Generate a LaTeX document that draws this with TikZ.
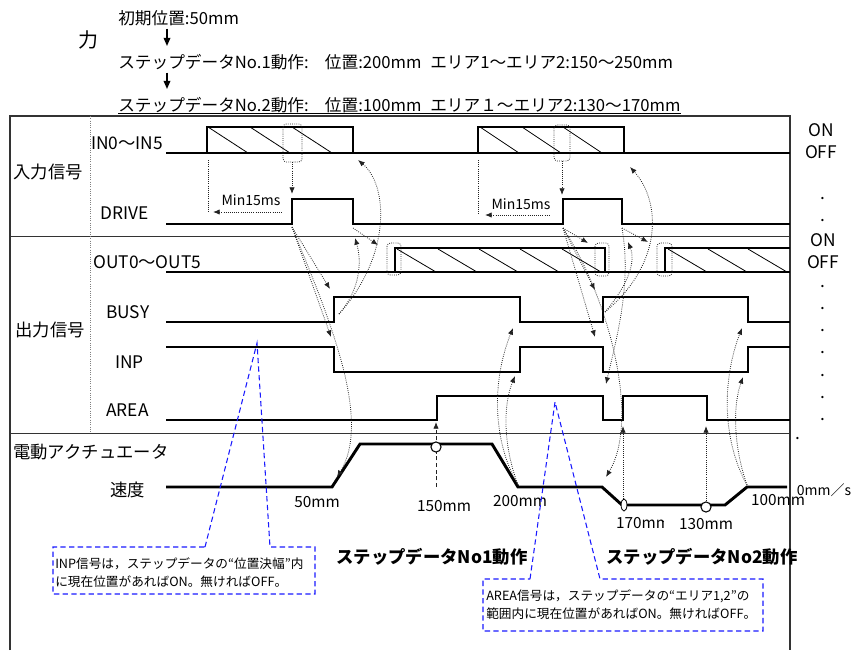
\documentclass[tikz,border=0pt]{standalone}
\usepackage{fontspec}
\setmainfont{Noto Sans CJK JP}
\usetikzlibrary{arrows.meta}
\definecolor{ink}{HTML}{222222}
\definecolor{frame}{HTML}{333333}
\definecolor{callblue}{HTML}{1A1AFF}
\tikzset{
  sig/.style={line width=2.2pt, draw=black, line join=miter},
  hatch/.style={line width=.6pt, draw=black},
  frm/.style={line width=1.1pt, draw=frame},
  cue/.style={densely dotted, line width=.6pt, draw=ink, -{Latex[length=5pt,width=4pt]}},
  hold/.style={densely dotted, line width=.6pt, draw=ink, rounded corners=2.5pt},
  callout/.style={draw=callblue, line width=.8pt, dash pattern=on 4pt off 2.5pt},
  flow/.style={line width=.9pt, -{Triangle[length=6pt,width=5pt]}},
  lbl/.style={inner sep=0pt, font=\fontsize{13}{15}\selectfont},
  head/.style={inner sep=0pt, font=\fontsize{12.5}{14}\selectfont},
  small/.style={inner sep=0pt, font=\fontsize{10.5}{12}\selectfont},
  poslbl/.style={inner sep=0pt, font=\fontsize{11.5}{13}\selectfont},
  note/.style={inner sep=0pt, align=left, font=\fontsize{9.5}{13.5}\selectfont},
  marker/.style={draw=black, line width=.8pt, fill=white}
}
\begin{document}
\begin{tikzpicture}[x=0.75pt,y=-0.75pt]
  \useasboundingbox (0,0) rectangle (852,650);

  % header
  \node[lbl,font=\fontsize{15}{17}\selectfont] (title) at (88,40) {力};
  \node[head,anchor=west] (init) at (118,18) {初期位置:50mm};
  \node[head,anchor=west] (step1) at (118,62)
    {\makebox[155pt][l]{ステップデータNo.1動作:}\makebox[79pt][l]{位置:200mm}エリア1～エリア2:150～250mm};
  \node[head,anchor=west] (step2) at (118,105)
    {\makebox[155pt][l]{ステップデータNo.2動作:}\makebox[79pt][l]{位置:100mm}エリア１～エリア2:130～170mm};
  \draw[line width=.6pt] (step2.south west) -- (step2.south east);
  \draw[flow] ([xshift=36.75pt,yshift=-2pt]init.south west) -- ([xshift=36.75pt,yshift=6pt]step1.north west);
  \draw[flow] ([xshift=36.75pt,yshift=-2pt]step1.south west) -- ([xshift=36.75pt,yshift=6pt]step2.north west);

  % frame
  \draw[frm] (10,650) -- (10,116) -- (790,116) -- (790,650);
  \draw[frm,line width=.7pt] (10,236) -- (790,236);
  \draw[frm,line width=.7pt] (10,433) -- (790,433);
  \draw[densely dotted,draw=gray,line width=.7pt] (90,116) -- (90,433);

  % row labels
  \node[lbl] (inlbl) at (48,172) {入力信号};
  \node[lbl] (outlbl) at (50,330) {出力信号};
  \node[lbl,anchor=west] (act) at (13,452) {電動アクチュエータ};
  \node[lbl,anchor=west] (spd) at (110,490) {速度};
  \node[lbl,anchor=west] (in) at (91,143) {IN0～IN5};
  \node[lbl,anchor=west] (drive) at (100,213) {DRIVE};
  \node[lbl,anchor=west] (out) at (93,262) {OUT0～OUT5};
  \node[lbl,anchor=west] (busy) at (106,312) {BUSY};
  \node[lbl,anchor=west] (inp) at (115,362) {INP};
  \node[lbl,anchor=west] (area) at (106,410) {AREA};

  % hatching
  \foreach \x in {208,250,292} \draw[hatch] (\x,127) -- ++(40,26);
  \foreach \x in {480,522,563} \draw[hatch] (\x,127) -- ++(39,26);
  \foreach \x in {397,438,479,520,562} \draw[hatch] (\x,249) -- ++(39,23);
  \foreach \x in {668,708,748} \draw[hatch] (\x,249) -- ++(39,23);

  % waveforms
  \draw[sig] (166,153) -- (790,153);
  \draw[sig] (207,153) |- (353,127) -- (353,153);
  \draw[sig] (478,153) |- (624,127) -- (624,153);
  \draw[sig] (166,224) -| (292,199) -| (353,224) -| (563,199) -| (622,224) -- (790,224);
  \draw[sig] (166,272) -- (790,272);
  \draw[sig] (395,272) |- (605,248) -- (605,272);
  \draw[sig] (665,272) |- (790,248);
  \draw[sig] (166,322) -| (334,297) -| (520,322) -| (603,297) -| (748,322) -- (790,322);
  \draw[sig] (166,347) -| (334,372) -| (520,347) -| (603,372) -| (748,347) -- (790,347);
  \draw[sig] (166,420) -| (437,396) -| (603,420) -| (623,396) -| (707,420) -- (790,420);
  \draw[sig] (166,487) -- (332,487) -- (360,444) -- (492,444) -- (518,487) -- (602,487)
    -- (622,505) -- (725,505) -- (747,487) -- (787,487);

  % hold windows
  \draw[hold] (283,124) rectangle (302,162);
  \draw[hold] (554,125) rectangle (570,161);
  \draw[hold] (387,243) rectangle (401,275);
  \draw[hold] (595,243) rectangle (609,276);
  \draw[hold] (657,243) rectangle (672,276);

  % cause and effect, step 1
  \coordinate (h1) at (292,162);
  \coordinate (d1r) at (292,227);
  \coordinate (d1f) at (353,228);
  \coordinate (b1r) at (339,314);
  \coordinate (s1e) at (518,485);
  \draw[cue] (h1) -- (292,194);
  \draw[densely dotted,line width=.6pt,draw=ink] (208,160) -- (208,213);
  \draw[cue,{Latex[length=5pt,width=4pt]}-] (213,212) -- (282,212);
  \node[small] (min1) at (251,200) {Min15ms};
  \draw[cue] (d1r) -- (330,289);
  \draw[cue] (d1r) -- (331,337);
  \draw[cue] (d1f) -- (378,245);
  \draw[cue] (b1r) .. controls (360,290) and (362,262) .. (355,238);
  \draw[cue] (b1r) .. controls (392,255) and (388,185) .. (358,160);
  \draw[cue] (d1r) .. controls (330,320) and (372,420) .. (337,477);
  \draw[cue] (s1e) .. controls (492,440) and (492,380) .. (513,328);
  \draw[cue] (s1e) .. controls (503,445) and (503,405) .. (515,376);
  \draw[cue,densely dashed] (436,487) -- (436,422);
  \draw[marker] (436,447) circle[radius=3.8pt];

  % cause and effect, step 2
  \coordinate (h2) at (562,161);
  \coordinate (d2r) at (563,228);
  \coordinate (d2f) at (622,228);
  \coordinate (b2r) at (605,312);
  \coordinate (s2e) at (747,485);
  \draw[cue] (h2) -- (562,195);
  \draw[densely dotted,line width=.6pt,draw=ink] (478,160) -- (478,214);
  \draw[cue,{Latex[length=5pt,width=4pt]}-] (485,215) -- (550,215);
  \node[small] (min2) at (521,204) {Min15ms};
  \draw[cue] (d2r) -- (588,243);
  \draw[cue] (d2r) -- (595,290);
  \draw[cue] (d2r) -- (595,337);
  \draw[cue] (d2f) .. controls (632,285) and (616,340) .. (606,384);
  \draw[cue] (d2f) -- (648,242);
  \draw[cue] (b2r) .. controls (628,285) and (636,262) .. (628,242);
  \draw[cue] (b2r) .. controls (665,262) and (660,200) .. (630,167);
  \draw[cue] (d2r) .. controls (610,300) and (640,420) .. (606,477);
  \draw[cue] (623,503) -- (623,426);
  \draw[cue] (706,503) -- (706,426);
  \draw[marker,line width=.6pt] (624,505) ellipse[x radius=2.2pt,y radius=4.5pt];
  \draw[marker] (706,507) circle[radius=3.8pt];
  \draw[cue] (s2e) .. controls (722,440) and (722,380) .. (742,328);
  \draw[cue] (s2e) .. controls (733,445) and (733,405) .. (743,377);

  % position labels
  \node[poslbl] (p50) at (317,502) {50mm};
  \node[poslbl] (p150) at (444,506) {150mm};
  \node[poslbl] (p200) at (520,501) {200mm};
  \begin{scope}
    \clip (600,510) rectangle (663,540);
    \node[poslbl] (p170) at (643,523) {170mm};
  \end{scope}
  \node[poslbl] (p130) at (706,524) {130mm};
  \node[poslbl] (p100) at (778,500) {100mm};
  \node[small] (zero) at (824,490) {0mm／s};

  % step captions
  \node[lbl,font=\fontsize{13}{15}\selectfont\bfseries] (cap1) at (432,557) {ステップデータNo1動作};
  \node[lbl,font=\fontsize{13}{15}\selectfont\bfseries] (cap2) at (702,557) {ステップデータNo2動作};

  % notes
  \draw[callout] (205,547) -- (257,343) -- (270,547) -- (315,547) -- (315,594) -- (53,594) -- (53,547) -- cycle;
  \node[note,anchor=north west] (inpnote) at (55,557)
    {INP信号は，ステップデータの“位置決幅”内\\に現在位置があればON。無ければOFF。};
  \draw[callout] (530,579) -- (555,402) -- (600,579) -- (763,579) -- (763,631) -- (483,631) -- (483,579) -- cycle;
  \node[note,anchor=north west] (areanote) at (486,589)
    {AREA信号は，ステップデータの“エリア1,2”の\\範囲内に現在位置があればON。無ければOFF。};

  % levels
  \node[lbl] (on1) at (821,130) {ON};
  \node[lbl] (off1) at (821,152) {OFF};
  \node[lbl] (on2) at (823,240) {ON};
  \node[lbl] (off2) at (823,262) {OFF};
  \foreach \y in {195,217,283,305,327,349,372,394,416}
    \node[lbl,anchor=base] at (823,\y+4) {.};
  \node[lbl,anchor=base] (lastdot) at (798,439) {.};
\end{tikzpicture}
\end{document}
